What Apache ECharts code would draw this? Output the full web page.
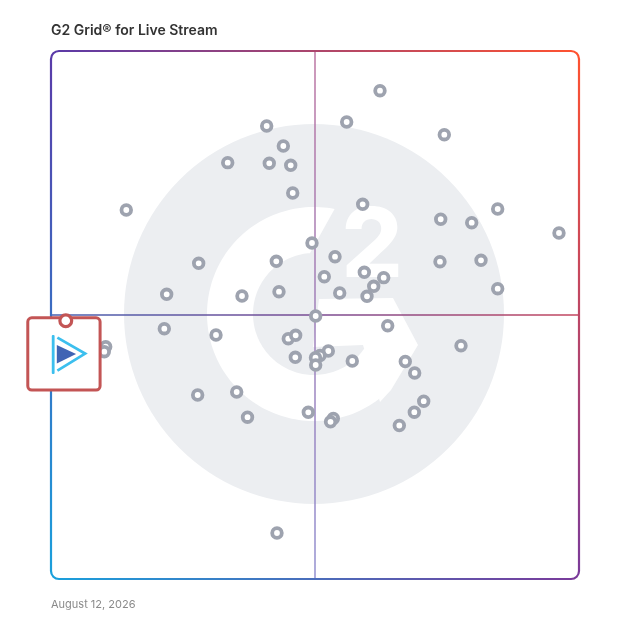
<!DOCTYPE html>
<html><head><meta charset="utf-8">
<script src="https://cdn.jsdelivr.net/npm/echarts@6/dist/echarts.min.js"></script>
<style>html,body{margin:0;padding:0;background:#fff}#c{width:628px;height:628px}</style>
</head><body><div id="c"></div>
<script>
var titleText = 'G2 Grid\u00AE for Live Stream';
var dateText = 'August 12, 2026';
// x: satisfaction (0-100), y: market presence (0-100)
var satisfaction = [40.85,44.00,33.47,41.34,45.40,45.78,14.26,49.43,27.97,42.67,21.91,36.17,43.18,
  62.31,56.00,74.49,59.03,84.60,73.81,79.68,96.21,53.79,73.67,81.44,59.34,51.76,63.01,61.12,54.68,59.85,84.60,
  50.13,63.77,21.46,31.25,44.94,46.34,77.65,52.52,50.95,50.09,50.13,46.27,57.06,67.10,68.88,
  27.78,35.17,70.59,37.22,48.73,53.47,52.94,68.81,65.97,10.36,10.09,42.80];
var presence = [85.80,82.01,78.85,78.73,78.35,73.11,69.89,63.64,59.79,60.17,53.92,53.60,54.41,
  92.48,86.55,84.15,70.97,70.08,68.13,67.48,65.53,61.04,60.09,60.36,58.09,57.25,57.07,55.44,54.17,53.54,54.98,
  49.81,47.97,47.41,46.21,45.51,46.16,44.19,43.18,42.33,41.91,40.53,41.99,41.29,41.19,39.02,
  34.85,35.42,33.67,30.64,31.57,30.40,29.77,31.59,29.07,44.00,43.05,8.71];
var productName = ['Live Stream Product'];
var productX = [2.8];
var productY = [48.9];
var axisMin = 0, axisMax = 100, axisMid = 50;

var GRID = {left: 51, top: 51, size: 528};
var chart = echarts.init(document.getElementById('c'), null, {renderer: 'canvas'});

var points = satisfaction.map(function (v, i) { return [v, presence[i]]; });
var product = productX.map(function (v, i) { return [v, productY[i], productName[i]]; });

var cTL = '#5a3aa8', cTR = '#ff5230', cBL = '#1aa0dc', cBR = '#7a3a9a';
var L = GRID.left, T = GRID.top, R = GRID.left + GRID.size, B = GRID.top + GRID.size, rr = 8;
function lg(x, y, x2, y2, c1, c2) {
  return {type: 'linear', x: x, y: y, x2: x2, y2: y2, global: true,
    colorStops: [{offset: 0, color: c1}, {offset: 1, color: c2}]};
}

chart.setOption({
  animation: false,
  title: [
    {text: titleText, left: 51, top: 24, padding: 0, textStyle: {fontFamily: 'Inter', fontSize: 14, fontWeight: 600, color: '#333333'}},
    {text: dateText, left: 51, top: 599, padding: 0, textStyle: {fontFamily: 'Inter', fontSize: 11, fontWeight: 400, color: '#8a8a8a'}}
  ],
  grid: {left: GRID.left, top: GRID.top, width: GRID.size, height: GRID.size},
  xAxis: {type: 'value', min: axisMin, max: axisMax, show: false},
  yAxis: {type: 'value', min: axisMin, max: axisMax, show: false},
  series: [
    {type: 'scatter', data: points, symbol: 'circle', symbolSize: 9.6, z: 2,
      itemStyle: {color: '#ffffff', borderColor: '#9ea3af', borderWidth: 3.8, opacity: 1},
      emphasis: {disabled: true}},
    {type: 'custom', data: product, z: 20,
      renderItem: function (params, api) {
        var p = api.coord([api.value(0), api.value(1)]);
        return {type: 'group', x: p[0], y: p[1], children: [
          {type: 'rect', shape: {x: -38, y: -3, width: 72.3, height: 72.3, r: 4},
            style: {fill: '#ffffff', stroke: '#c35555', lineWidth: 3}},
          {type: 'rect', shape: {x: -14, y: 14.3, width: 2.8, height: 39, r: 1},
            style: {fill: '#3cbfee'}},
          {type: 'polyline', shape: {points: [[-8.4, 16.8], [19.3, 32.8], [-8.4, 49.8]]},
            style: {fill: null, stroke: '#3cbfee', lineWidth: 2.8, lineJoin: 'miter'}},
          {type: 'polygon', shape: {points: [[-9, 24.3], [10.3, 33.3], [-9, 42.6]]},
            style: {fill: '#4064b4'}},
          {type: 'circle', shape: {cx: 0, cy: 0, r: 5.9},
            style: {fill: '#ffffff', stroke: '#c35555', lineWidth: 3.2}}
        ]};
      }}
  ]
});

// decorations computed from the grid
var c = chart.convertToPixel({gridIndex: 0}, [axisMid, axisMid]);
var cx = c[0] - 1, cy = c[1] - 1;
function arc(r, a0, a1, n) {
  var pts = [];
  for (var i = 0; i <= n; i++) {
    var a = (a0 + (a1 - a0) * i / n) * Math.PI / 180;
    pts.push([cx + r * Math.cos(a), cy + r * Math.sin(a)]);
  }
  return pts;
}
var ringPts = arc(107, 281.1, 45, 120).concat(arc(61, 33, 266.2, 120));
var barPts = [[5, -15], [79, -16], [104, 31], [77, 76], [66, 88], [49, 31], [-1, 33]].map(function (q) {
  return [cx + q[0], cy + q[1]];
});
var PI = Math.PI;
function corner(x, y, a0, a1, stroke) {
  return {type: 'arc', z: 5, silent: true, shape: {cx: x, cy: y, r: rr, startAngle: a0, endAngle: a1, clockwise: true},
    style: {fill: null, stroke: stroke, lineWidth: 2.2}};
}

chart.setOption({
  graphic: [
    {type: 'circle', z: -10, silent: true, shape: {cx: cx, cy: cy, r: 190}, style: {fill: '#eceef1'}},
    {type: 'polygon', z: -9, silent: true, shape: {points: ringPts}, style: {fill: '#ffffff'}},
    {type: 'polygon', z: -9, silent: true, shape: {points: barPts}, style: {fill: '#ffffff'}},
    {type: 'text', z: -9, silent: true, x: cx + 58, y: cy - 66,
      style: {text: '2', fill: '#ffffff', font: '800 96px Inter', align: 'center', verticalAlign: 'middle'}},
    {type: 'line', z: 0, silent: true, shape: {x1: c[0], y1: T, x2: c[0], y2: B},
      style: {stroke: {type: 'linear', x: 0, y: T, x2: 0, y2: B, global: true,
        colorStops: [{offset: 0, color: '#b86c9c'}, {offset: 0.5, color: '#9a78b6'}, {offset: 1, color: '#8b88cc'}]}, lineWidth: 1.4}},
    {type: 'line', z: 0, silent: true, shape: {x1: L, y1: c[1], x2: R, y2: c[1]},
      style: {stroke: {type: 'linear', x: L, y: 0, x2: R, y2: 0, global: true,
        colorStops: [{offset: 0, color: '#4660b0'}, {offset: 0.5, color: '#794b93'}, {offset: 1, color: '#c4465e'}]}, lineWidth: 1.4}},
    {type: 'line', z: 5, silent: true, shape: {x1: L + rr, y1: T, x2: R - rr, y2: T},
      style: {stroke: lg(L, 0, R, 0, cTL, cTR), lineWidth: 2.2}},
    {type: 'line', z: 5, silent: true, shape: {x1: L + rr, y1: B, x2: R - rr, y2: B},
      style: {stroke: lg(L, 0, R, 0, cBL, cBR), lineWidth: 2.2}},
    {type: 'line', z: 5, silent: true, shape: {x1: L, y1: T + rr, x2: L, y2: B - rr},
      style: {stroke: lg(0, T, 0, B, cTL, cBL), lineWidth: 2.2}},
    {type: 'line', z: 5, silent: true, shape: {x1: R, y1: T + rr, x2: R, y2: B - rr},
      style: {stroke: lg(0, T, 0, B, cTR, cBR), lineWidth: 2.2}},
    corner(L + rr, T + rr, PI, 1.5 * PI, cTL),
    corner(R - rr, T + rr, 1.5 * PI, 2 * PI, cTR),
    corner(R - rr, B - rr, 0, 0.5 * PI, cBR),
    corner(L + rr, B - rr, 0.5 * PI, PI, cBL)
  ]
});
</script>
</body></html>
